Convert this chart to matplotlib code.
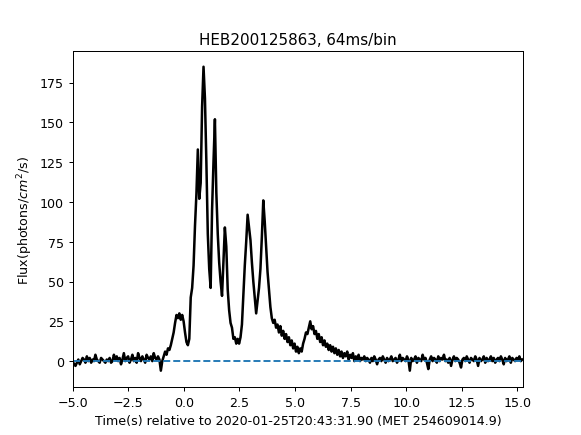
'''
Light curve of HEB200125863 binned at 64 ms
'''

import numpy as np
import matplotlib
matplotlib.use("Agg")
import matplotlib.pyplot as plt


BIN_SIZE = 0.064
T_START = -5.0

# flux per 64ms bin (photons/cm^2/s)
pre_burst = [0, -2, -3, -1, 1, -2, 0, 2, 1, -1,
             3, 0, 2, -1, 1, 0, 4, 1, 0, -1,
             2, 1, 0, -1, 1, 0, 2, -1, 0, 4,
             1, 3, 0, 2, -2, 1, 5, 0, 2, 3,
             -1, 1, 4, 0, 2, -1, 5, 2, 0, 3,
             1, -1, 4, 2, 1, 3, 0, 5, 2, 1,
             3, 1, -6, 0]

burst = [3, 6, 4, 8, 7, 10, 14, 18, 24, 29,
         27, 30, 26, 29, 25, 18, 12, 10, 14, 40,
         46, 60, 85, 105, 133, 102, 112, 160, 185, 165,
         125, 80, 58, 46, 95, 125, 152, 106, 80, 62,
         50, 41, 62, 84, 72, 45, 32, 24, 21, 14,
         15, 11, 14, 11, 15, 23, 42, 60, 75, 92,
         84, 76, 62, 50, 40, 30, 38, 46, 58, 78,
         101, 88, 72, 56, 45, 34, 27, 24, 26, 21,
         23, 18, 22, 16, 19, 14, 17, 12, 15, 10,
         13, 8, 11, 6, 9, 5, 8, 6, 11, 14,
         18, 17, 21, 25, 20, 22, 17, 19, 14, 17,
         12, 15, 10, 13, 9, 11, 7, 10, 6, 9,
         5, 8, 4, 7, 3, 6, 2, 5, 3, 6,
         1, 4, 2, 5, 0, 3, 1, 4, 0, 2]

post_burst = [1, 3, 0, 2, 1, -1, 2, 0, 3, 1,
              -2, 1, 2, 0, 3, 1, -1, 2, 0, 1,
              3, 0, 1, 2, -1, 1, 4, 0, 2, 1,
              0, 3, 1, -6, 2, 0, 1, 3, -1, 2,
              1, 0, 4, 1, 2, -1, -5, 1, 3, 0,
              2, 1, -1, 3, 0, 2, 1, 4, 0, 1,
              -1, 2, -3, 1, 3, 0, 2, 1, -1, -4,
              1, 2, 0, 3, 1, -1, 2, 1, 0, 3,
              1, -3, 2, 0, 1, 3, -1, 2, 0, 1,
              3, 0, 2, -1, 1, 2, 0, 3, 1, -2,
              2, 0, 1, 3, -1, 2, 1, 0, 2, 1,
              3, 0, 1]

flux = np.array(pre_burst + burst + post_burst, dtype=float)
times = T_START + BIN_SIZE * np.arange(len(flux))

fig = plt.figure(figsize=(6.4, 4.8), dpi=90.8)
ax = fig.add_subplot(111)
ax.plot(times, flux, color='k', linewidth=2.0)
ax.axhline(0, linestyle='--', color='C0', linewidth=1.5)
ax.set_xlim(-5.0, 15.26)
ax.set_ylim(-16.3, 194.6)
ax.set_title("HEB200125863, 64ms/bin")
ax.set_xlabel("Time(s) relative to 2020-01-25T20:43:31.90 (MET 254609014.9)")
ax.set_ylabel("Flux(photons/$cm^2$/s)")
fig.savefig("out.png", dpi=90.8)
